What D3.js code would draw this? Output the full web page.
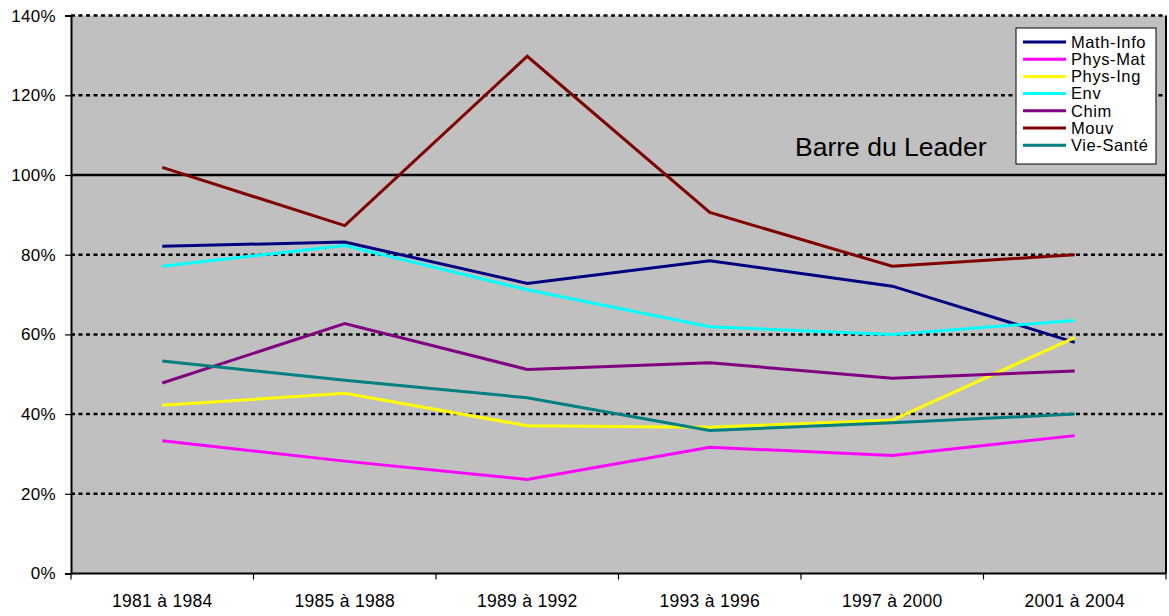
<!DOCTYPE html>
<html>
<head>
<meta charset="utf-8">
<script src="https://cdn.jsdelivr.net/npm/d3@7"></script>
<style>
  body { margin: 0; background: #fff; }
  svg { display: block; font-family: "Liberation Sans", Arial, sans-serif; }
</style>
</head>
<body>
<svg id="svg" width="1169" height="616"></svg>
<script>
// categories and values (percent)
var categories = ['1981 à 1984', '1985 à 1988', '1989 à 1992', '1993 à 1996', '1997 à 2000', '2001 à 2004'];
var seriesNames = ['Math-Info', 'Phys-Mat', 'Phys-Ing', 'Env', 'Chim', 'Mouv', 'Vie-Santé'];
var mathInfo  = [82.1, 83.2, 72.8, 78.5, 72.1, 58.0];
var physMat   = [33.3, 28.2, 23.6, 31.7, 29.6, 34.6];
var physIng   = [42.2, 45.2, 37.1, 36.7, 38.5, 59.2];
var env       = [77.1, 82.3, 71.2, 61.9, 60.0, 63.5];
var chim      = [47.8, 62.7, 51.2, 52.9, 49.0, 50.8];
var mouv      = [101.9, 87.3, 129.8, 90.6, 77.1, 80.0];
var vieSante  = [53.3, 48.5, 44.1, 35.9, 37.8, 40.0];
var yTicks = [0, 20, 40, 60, 80, 100, 120, 140];
var leaderValue = 100;
var leaderLabel = 'Barre du Leader';

(function() {

var colors = ['#000080', '#ff00ff', '#ffff00', '#00ffff', '#800080', '#800000', '#008080'];
var allValues = [mathInfo, physMat, physIng, env, chim, mouv, vieSante];

var series = seriesNames.map(function(name, i) {
  return {name: name, color: colors[i], values: allValues[i]};
});

// plot area
var plotLeft = 71, plotRight = 1166, plotTop = 15.6, plotBottom = 573.5;

var svg = d3.select('#svg');

var x = d3.scaleBand().domain(categories).range([plotLeft, plotRight]);
var y = d3.scaleLinear().domain([0, 140]).range([plotBottom, plotTop]);

// background
svg.append('rect')
  .attr('x', plotLeft).attr('y', plotTop)
  .attr('width', plotRight - plotLeft).attr('height', plotBottom - plotTop)
  .attr('fill', '#c0c0c0');

// dotted gridlines
svg.append('g')
  .selectAll('line')
  .data(yTicks.filter(function(d) { return d > 0 && d !== leaderValue; }))
  .enter().append('line')
  .attr('x1', plotLeft).attr('x2', plotRight)
  .attr('y1', function(d) { return y(d); })
  .attr('y2', function(d) { return y(d); })
  .attr('stroke', '#000')
  .attr('stroke-width', 2.5)
  .attr('stroke-dasharray', '4,3.5');

// leader line
svg.append('line')
  .attr('x1', plotLeft).attr('x2', plotRight)
  .attr('y1', y(leaderValue)).attr('y2', y(leaderValue))
  .attr('stroke', '#000')
  .attr('stroke-width', 2.5);

svg.append('text')
  .attr('x', 795).attr('y', y(leaderValue) - 19)
  .attr('font-size', 26.5)
  .attr('fill', '#000')
  .text(leaderLabel);

// right border
svg.append('line')
  .attr('x1', plotRight).attr('x2', plotRight)
  .attr('y1', plotTop).attr('y2', plotBottom)
  .attr('stroke', '#000').attr('stroke-width', 2);

// y axis
var yAxis = svg.append('g')
  .attr('transform', 'translate(' + plotLeft + ',0)')
  .call(d3.axisLeft(y).tickValues(yTicks).tickSize(6).tickPadding(9)
    .tickFormat(function(d) { return d + '%'; }));
yAxis.select('.domain').attr('stroke', '#000').attr('stroke-width', 2);
yAxis.selectAll('.tick line').attr('stroke', '#000').attr('stroke-width', 1.2);
yAxis.selectAll('.tick text')
  .attr('font-size', 17)
  .attr('letter-spacing', 0.3)
  .attr('font-family', '"Liberation Sans", Arial, sans-serif')
  .attr('fill', '#000');

// x axis: ticks on the band boundaries
var xg = svg.append('g');
xg.append('line')
  .attr('x1', plotLeft).attr('x2', plotRight)
  .attr('y1', plotBottom).attr('y2', plotBottom)
  .attr('stroke', '#000').attr('stroke-width', 2);
var bounds = categories.map(function(c) { return x(c); }).concat([plotRight]);
xg.selectAll('line.tk')
  .data(bounds)
  .enter().append('line')
  .attr('class', 'tk')
  .attr('x1', function(d) { return d; }).attr('x2', function(d) { return d; })
  .attr('y1', plotBottom).attr('y2', plotBottom + 6)
  .attr('stroke', '#000').attr('stroke-width', 1.2);
xg.selectAll('text')
  .data(categories)
  .enter().append('text')
  .attr('x', function(d) { return x(d) + x.bandwidth() / 2; })
  .attr('y', 607)
  .attr('text-anchor', 'middle')
  .attr('font-size', 17.5)
  .attr('letter-spacing', 0.3)
  .attr('fill', '#000')
  .text(function(d) { return d; });

// lines
var line = d3.line()
  .x(function(d, i) { return x(categories[i]) + x.bandwidth() / 2; })
  .y(function(d) { return y(d); });

svg.append('g')
  .selectAll('path')
  .data(series)
  .enter().append('path')
  .attr('d', function(d) { return line(d.values); })
  .attr('fill', 'none')
  .attr('stroke', function(d) { return d.color; })
  .attr('stroke-width', 3)
  .attr('stroke-linejoin', 'miter');

// legend
var legend = svg.append('g').attr('transform', 'translate(1016,28)');
legend.append('rect')
  .attr('width', 140).attr('height', 136)
  .attr('fill', '#fff')
  .attr('stroke', '#000').attr('stroke-width', 1);

var item = legend.selectAll('g.item')
  .data(series)
  .enter().append('g')
  .attr('class', 'item')
  .attr('transform', function(d, i) { return 'translate(0,' + (14 + i * 17.2) + ')'; });
item.append('line')
  .attr('x1', 7).attr('x2', 50)
  .attr('stroke', function(d) { return d.color; })
  .attr('stroke-width', 3);
item.append('text')
  .attr('x', 55).attr('y', 5.8)
  .attr('font-size', 16.5)
  .attr('letter-spacing', 0.6)
  .attr('fill', '#000')
  .text(function(d) { return d.name; });

})();
</script>
</body>
</html>
